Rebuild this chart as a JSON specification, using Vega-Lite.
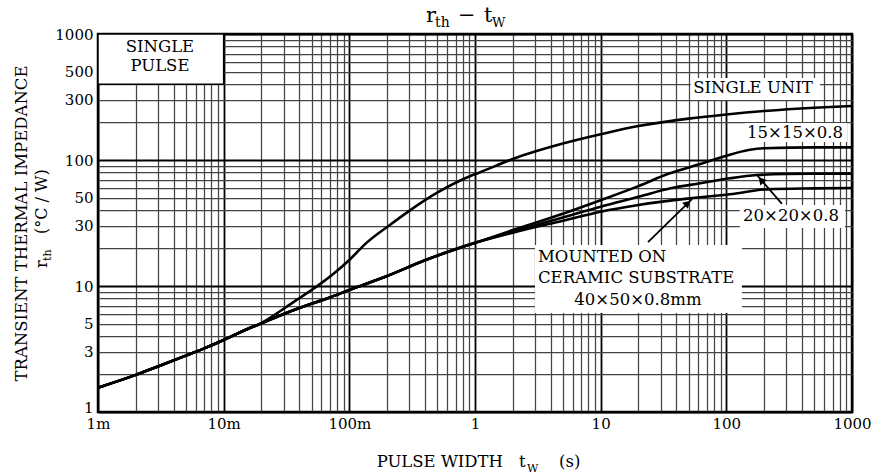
{
  "$schema": "https://vega.github.io/schema/vega-lite/v6.json",
  "width": 754,
  "height": 378,
  "autosize": {"type": "none"},
  "padding": {"left": 98, "top": 34, "right": 21, "bottom": 64},
  "background": "white",
  "config": {
    "view": {"stroke": "#000", "strokeWidth": 2.5},
    "font": "DejaVu Serif",
    "text": {"font": "DejaVu Serif", "color": "#000"}
  },
  "datasets": {
    "curves": [
      {"s": "SU", "x": 0.001, "y": 1.56}, {"s": "SU", "x": 0.002, "y": 1.97}, {"s": "SU", "x": 0.003, "y": 2.3},
      {"s": "SU", "x": 0.005, "y": 2.8}, {"s": "SU", "x": 0.007, "y": 3.2}, {"s": "SU", "x": 0.01, "y": 3.73},
      {"s": "SU", "x": 0.015, "y": 4.5}, {"s": "SU", "x": 0.02, "y": 5.1}, {"s": "SU", "x": 0.03, "y": 6.6},
      {"s": "SU", "x": 0.04, "y": 8.0}, {"s": "SU", "x": 0.058, "y": 10.3}, {"s": "SU", "x": 0.074, "y": 12.4},
      {"s": "SU", "x": 0.1, "y": 16.1}, {"s": "SU", "x": 0.137, "y": 22.0}, {"s": "SU", "x": 0.21, "y": 30.5},
      {"s": "SU", "x": 0.3, "y": 39.5}, {"s": "SU", "x": 0.5, "y": 55}, {"s": "SU", "x": 0.9, "y": 74},
      {"s": "SU", "x": 1.1, "y": 80}, {"s": "SU", "x": 2, "y": 102}, {"s": "SU", "x": 5, "y": 135},
      {"s": "SU", "x": 10, "y": 160}, {"s": "SU", "x": 20, "y": 186}, {"s": "SU", "x": 50, "y": 213},
      {"s": "SU", "x": 100, "y": 230}, {"s": "SU", "x": 200, "y": 245}, {"s": "SU", "x": 500, "y": 260},
      {"s": "SU", "x": 1000, "y": 268},

      {"s": "A15", "x": 0.001, "y": 1.56}, {"s": "A15", "x": 0.002, "y": 1.97}, {"s": "A15", "x": 0.003, "y": 2.3},
      {"s": "A15", "x": 0.005, "y": 2.8}, {"s": "A15", "x": 0.007, "y": 3.2}, {"s": "A15", "x": 0.01, "y": 3.73},
      {"s": "A15", "x": 0.015, "y": 4.5}, {"s": "A15", "x": 0.02, "y": 5.05}, {"s": "A15", "x": 0.03, "y": 6.0},
      {"s": "A15", "x": 0.04, "y": 6.7}, {"s": "A15", "x": 0.07, "y": 8.1}, {"s": "A15", "x": 0.1, "y": 9.3},
      {"s": "A15", "x": 0.2, "y": 12.0}, {"s": "A15", "x": 0.4, "y": 16.0}, {"s": "A15", "x": 1, "y": 22.0},
      {"s": "A15", "x": 2, "y": 27.8}, {"s": "A15", "x": 5, "y": 37.5}, {"s": "A15", "x": 10, "y": 48},
      {"s": "A15", "x": 20, "y": 62}, {"s": "A15", "x": 35, "y": 78}, {"s": "A15", "x": 60, "y": 92},
      {"s": "A15", "x": 100, "y": 108}, {"s": "A15", "x": 150, "y": 120}, {"s": "A15", "x": 200, "y": 124},
      {"s": "A15", "x": 500, "y": 126}, {"s": "A15", "x": 1000, "y": 126},

      {"s": "A20", "x": 0.001, "y": 1.56}, {"s": "A20", "x": 0.002, "y": 1.97}, {"s": "A20", "x": 0.003, "y": 2.3},
      {"s": "A20", "x": 0.005, "y": 2.8}, {"s": "A20", "x": 0.007, "y": 3.2}, {"s": "A20", "x": 0.01, "y": 3.73},
      {"s": "A20", "x": 0.015, "y": 4.5}, {"s": "A20", "x": 0.02, "y": 5.05}, {"s": "A20", "x": 0.03, "y": 6.0},
      {"s": "A20", "x": 0.04, "y": 6.7}, {"s": "A20", "x": 0.07, "y": 8.1}, {"s": "A20", "x": 0.1, "y": 9.3},
      {"s": "A20", "x": 0.2, "y": 12.0}, {"s": "A20", "x": 0.4, "y": 16.0}, {"s": "A20", "x": 1, "y": 22.0},
      {"s": "A20", "x": 2, "y": 27}, {"s": "A20", "x": 5, "y": 35}, {"s": "A20", "x": 10, "y": 42.6},
      {"s": "A20", "x": 20, "y": 51}, {"s": "A20", "x": 36, "y": 59.6}, {"s": "A20", "x": 62, "y": 65.3},
      {"s": "A20", "x": 107, "y": 71.6}, {"s": "A20", "x": 175, "y": 76}, {"s": "A20", "x": 300, "y": 77.5},
      {"s": "A20", "x": 1000, "y": 78},

      {"s": "A40", "x": 0.001, "y": 1.56}, {"s": "A40", "x": 0.002, "y": 1.97}, {"s": "A40", "x": 0.003, "y": 2.3},
      {"s": "A40", "x": 0.005, "y": 2.8}, {"s": "A40", "x": 0.007, "y": 3.2}, {"s": "A40", "x": 0.01, "y": 3.73},
      {"s": "A40", "x": 0.015, "y": 4.5}, {"s": "A40", "x": 0.02, "y": 5.05}, {"s": "A40", "x": 0.03, "y": 6.0},
      {"s": "A40", "x": 0.04, "y": 6.7}, {"s": "A40", "x": 0.07, "y": 8.1}, {"s": "A40", "x": 0.1, "y": 9.3},
      {"s": "A40", "x": 0.2, "y": 12.0}, {"s": "A40", "x": 0.4, "y": 16.0}, {"s": "A40", "x": 1, "y": 22.0},
      {"s": "A40", "x": 2, "y": 26.5}, {"s": "A40", "x": 5, "y": 33}, {"s": "A40", "x": 10, "y": 38.9},
      {"s": "A40", "x": 20, "y": 44}, {"s": "A40", "x": 51, "y": 49.6}, {"s": "A40", "x": 107, "y": 53.4},
      {"s": "A40", "x": 209, "y": 58.5}, {"s": "A40", "x": 500, "y": 59.5}, {"s": "A40", "x": 1000, "y": 60}
    ],
    "boxes": [
      {"x": 52, "x2": 556, "y": 299, "y2": 448},
      {"x": 141, "x2": 912, "y": 139, "y2": 197},
      {"x": 128, "x2": 880, "y": 28.9, "y2": 44},
      {"x": 3.0, "x2": 133, "y": 6.1, "y2": 21.2}
    ],
    "pulsebox": [{"x": 0.001, "x2": 0.01, "y": 400, "y2": 1000}],
    "notes": [
      {"t": "SINGLE", "x": 0.00311, "y": 795},
      {"t": "PULSE", "x": 0.00311, "y": 555},
      {"t": "SINGLE UNIT", "x": 163, "y": 373},
      {"t": "15×15×0.8", "x": 352, "y": 164},
      {"t": "20×20×0.8", "x": 327, "y": 36},
      {"t": "40×50×0.8mm", "x": 19.8, "y": 7.74}
    ],
    "notesLeft": [
      {"t": "MOUNTED ON", "x": 3.17, "y": 17.0},
      {"t": "CERAMIC SUBSTRATE", "x": 3.17, "y": 11.6}
    ],
    "arrows": [
      {"x": 277, "y": 44.8, "x2": 175, "y2": 76},
      {"x": 23.8, "y": 22.3, "x2": 53.3, "y2": 49}
    ]
  },
  "layer": [
    {
      "data": {"name": "pulsebox"},
      "mark": {"type": "rect", "fill": "white", "stroke": "#000", "strokeWidth": 1.5},
      "encoding": {
        "x": {"field": "x", "type": "quantitative", "scale": {"type": "log", "domain": [0.001, 1000], "nice": false},
          "axis": {
            "title": null,
            "values": [0.001,0.002,0.003,0.004,0.005,0.006,0.007,0.008,0.009,0.01,0.02,0.03,0.04,0.05,0.06,0.07,0.08,0.09,0.1,0.2,0.3,0.4,0.5,0.6,0.7,0.8,0.9,1,2,3,4,5,6,7,8,9,10,20,30,40,50,60,70,80,90,100,200,300,400,500,600,700,800,900,1000],
            "labelExpr": "datum.value === 0.001 ? '1m' : datum.value === 0.01 ? '10m' : datum.value === 0.1 ? '100m' : indexof([1,10,100,1000], datum.value) >= 0 ? format(datum.value, 'd') : ''",
            "grid": true,
            "gridColor": {"condition": {"test": "indexof([0.001,0.01,0.1,1,10,100,1000], datum.value) >= 0", "value": "#000"}, "value": "#444"},
            "gridWidth": {"condition": {"test": "indexof([0.001,0.01,0.1,1,10,100,1000], datum.value) >= 0", "value": 1.8}, "value": 1.25},
            "gridOpacity": 1,
            "ticks": false, "domain": false,
            "labelFlush": false, "labelOverlap": false,
            "labelFont": "DejaVu Serif", "labelFontSize": 15, "labelColor": "#000", "labelPadding": 4
          }},
        "x2": {"field": "x2"},
        "y": {"field": "y", "type": "quantitative", "scale": {"type": "log", "domain": [1, 1000], "nice": false},
          "axis": {
            "title": "TRANSIENT THERMAL IMPEDANCE",
            "titleFont": "DejaVu Serif", "titleFontSize": 16.5, "titleFontWeight": "normal", "titleColor": "#000",
            "titleX": -77, "titleBaseline": "middle",
            "values": [1,2,3,4,5,6,7,8,9,10,20,30,40,50,60,70,80,90,100,200,300,400,500,600,700,800,900,1000],
            "labelExpr": "indexof([1,3,5,10,30,50,100,300,500,1000], datum.value) >= 0 ? format(datum.value, 'd') : ''",
            "labelOffset": {"condition": {"test": "datum.value === 1", "value": -5}, "value": 0},
            "grid": true,
            "gridColor": {"condition": {"test": "indexof([1,10,100,1000], datum.value) >= 0", "value": "#000"}, "value": "#444"},
            "gridWidth": {"condition": {"test": "indexof([1,10,100,1000], datum.value) >= 0", "value": 1.8}, "value": 1.25},
            "gridOpacity": 1,
            "ticks": false, "domain": false,
            "labelFlush": false, "labelOverlap": false,
            "labelFont": "DejaVu Serif", "labelFontSize": 15, "labelColor": "#000", "labelPadding": 5
          }},
        "y2": {"field": "y2"}
      }
    },
    {
      "data": {"name": "boxes"},
      "mark": {"type": "rect", "fill": "white", "stroke": null},
      "encoding": {
        "x": {"field": "x", "type": "quantitative", "scale": {"type": "log"}},
        "x2": {"field": "x2"},
        "y": {"field": "y", "type": "quantitative", "scale": {"type": "log"}},
        "y2": {"field": "y2"}
      }
    },
    {
      "data": {"name": "curves"},
      "mark": {"type": "line", "color": "#000", "strokeWidth": 2.6, "interpolate": "monotone"},
      "encoding": {
        "x": {"field": "x", "type": "quantitative", "scale": {"type": "log"}},
        "y": {"field": "y", "type": "quantitative", "scale": {"type": "log"}},
        "detail": {"field": "s"}
      }
    },
    {
      "data": {"name": "notes"},
      "mark": {"type": "text", "fontSize": 16.5, "align": "center", "baseline": "middle", "color": "#000"},
      "encoding": {
        "x": {"field": "x", "type": "quantitative", "scale": {"type": "log"}},
        "y": {"field": "y", "type": "quantitative", "scale": {"type": "log"}},
        "text": {"field": "t"}
      }
    },
    {
      "data": {"name": "notesLeft"},
      "mark": {"type": "text", "fontSize": 16.5, "align": "left", "baseline": "middle", "color": "#000"},
      "encoding": {
        "x": {"field": "x", "type": "quantitative", "scale": {"type": "log"}},
        "y": {"field": "y", "type": "quantitative", "scale": {"type": "log"}},
        "text": {"field": "t"}
      }
    },
    {
      "data": {"name": "arrows"},
      "mark": {"type": "rule", "color": "#000", "strokeWidth": 1.8},
      "encoding": {
        "x": {"field": "x", "type": "quantitative", "scale": {"type": "log"}},
        "y": {"field": "y", "type": "quantitative", "scale": {"type": "log"}},
        "x2": {"field": "x2"},
        "y2": {"field": "y2"}
      }
    },
    {
      "data": {"values": [{}]},
      "mark": {"type": "point", "shape": "triangle-up", "filled": true, "color": "#000", "opacity": 1, "size": 70, "angle": 319},
      "encoding": {
        "x": {"datum": 189, "type": "quantitative", "scale": {"type": "log"}},
        "y": {"datum": 69.4, "type": "quantitative", "scale": {"type": "log"}}
      }
    },
    {
      "data": {"values": [{}]},
      "mark": {"type": "point", "shape": "triangle-up", "filled": true, "color": "#000", "opacity": 1, "size": 70, "angle": 46},
      "encoding": {
        "x": {"datum": 49.2, "type": "quantitative", "scale": {"type": "log"}},
        "y": {"datum": 45.4, "type": "quantitative", "scale": {"type": "log"}}
      }
    },
    {
      "data": {"values": [{}]},
      "mark": {"type": "text", "text": "r", "fontSize": 21, "align": "left", "baseline": "alphabetic", "dx": -49, "dy": -12, "color": "#000"},
      "encoding": {
        "x": {"datum": 1, "type": "quantitative", "scale": {"type": "log"}},
        "y": {"datum": 1000, "type": "quantitative", "scale": {"type": "log"}}
      }
    },
    {
      "data": {"values": [{}]},
      "mark": {"type": "text", "text": "th", "fontSize": 14, "align": "left", "baseline": "alphabetic", "dx": -40, "dy": -7, "color": "#000"},
      "encoding": {
        "x": {"datum": 1, "type": "quantitative", "scale": {"type": "log"}},
        "y": {"datum": 1000, "type": "quantitative", "scale": {"type": "log"}}
      }
    },
    {
      "data": {"values": [{}]},
      "mark": {"type": "text", "text": "−", "fontSize": 21, "align": "left", "baseline": "alphabetic", "dx": -17, "dy": -12, "color": "#000"},
      "encoding": {
        "x": {"datum": 1, "type": "quantitative", "scale": {"type": "log"}},
        "y": {"datum": 1000, "type": "quantitative", "scale": {"type": "log"}}
      }
    },
    {
      "data": {"values": [{}]},
      "mark": {"type": "text", "text": "t", "fontSize": 21, "align": "left", "baseline": "alphabetic", "dx": 9, "dy": -12, "color": "#000"},
      "encoding": {
        "x": {"datum": 1, "type": "quantitative", "scale": {"type": "log"}},
        "y": {"datum": 1000, "type": "quantitative", "scale": {"type": "log"}}
      }
    },
    {
      "data": {"values": [{}]},
      "mark": {"type": "text", "text": "W", "fontSize": 13, "align": "left", "baseline": "alphabetic", "dx": 17, "dy": -7, "color": "#000"},
      "encoding": {
        "x": {"datum": 1, "type": "quantitative", "scale": {"type": "log"}},
        "y": {"datum": 1000, "type": "quantitative", "scale": {"type": "log"}}
      }
    },
    {
      "data": {"values": [{}]},
      "mark": {"type": "text", "text": "PULSE WIDTH", "fontSize": 16.5, "align": "right", "baseline": "alphabetic", "dx": 28, "dy": 55, "color": "#000"},
      "encoding": {
        "x": {"datum": 1, "type": "quantitative", "scale": {"type": "log"}},
        "y": {"datum": 1, "type": "quantitative", "scale": {"type": "log"}}
      }
    },
    {
      "data": {"values": [{}]},
      "mark": {"type": "text", "text": "t", "fontSize": 16.5, "align": "left", "baseline": "alphabetic", "dx": 44, "dy": 55, "color": "#000"},
      "encoding": {
        "x": {"datum": 1, "type": "quantitative", "scale": {"type": "log"}},
        "y": {"datum": 1, "type": "quantitative", "scale": {"type": "log"}}
      }
    },
    {
      "data": {"values": [{}]},
      "mark": {"type": "text", "text": "W", "fontSize": 11, "align": "left", "baseline": "alphabetic", "dx": 52, "dy": 60, "color": "#000"},
      "encoding": {
        "x": {"datum": 1, "type": "quantitative", "scale": {"type": "log"}},
        "y": {"datum": 1, "type": "quantitative", "scale": {"type": "log"}}
      }
    },
    {
      "data": {"values": [{}]},
      "mark": {"type": "text", "text": "(s)", "fontSize": 16.5, "align": "left", "baseline": "alphabetic", "dx": 84, "dy": 55, "color": "#000"},
      "encoding": {
        "x": {"datum": 1, "type": "quantitative", "scale": {"type": "log"}},
        "y": {"datum": 1, "type": "quantitative", "scale": {"type": "log"}}
      }
    },
    {
      "data": {"values": [{}]},
      "mark": {"type": "text", "text": "r", "fontSize": 16, "angle": 270, "align": "left", "baseline": "alphabetic", "dx": 144, "dy": -51, "color": "#000"},
      "encoding": {
        "x": {"datum": 0.001, "type": "quantitative", "scale": {"type": "log"}},
        "y": {"datum": 1, "type": "quantitative", "scale": {"type": "log"}}
      }
    },
    {
      "data": {"values": [{}]},
      "mark": {"type": "text", "text": "th", "fontSize": 11, "angle": 270, "align": "left", "baseline": "alphabetic", "dx": 151, "dy": -47, "color": "#000"},
      "encoding": {
        "x": {"datum": 0.001, "type": "quantitative", "scale": {"type": "log"}},
        "y": {"datum": 1, "type": "quantitative", "scale": {"type": "log"}}
      }
    },
    {
      "data": {"values": [{}]},
      "mark": {"type": "text", "text": "(°C / W)", "fontSize": 16, "angle": 270, "align": "left", "baseline": "alphabetic", "dx": 178, "dy": -51, "color": "#000"},
      "encoding": {
        "x": {"datum": 0.001, "type": "quantitative", "scale": {"type": "log"}},
        "y": {"datum": 1, "type": "quantitative", "scale": {"type": "log"}}
      }
    }
  ]
}
